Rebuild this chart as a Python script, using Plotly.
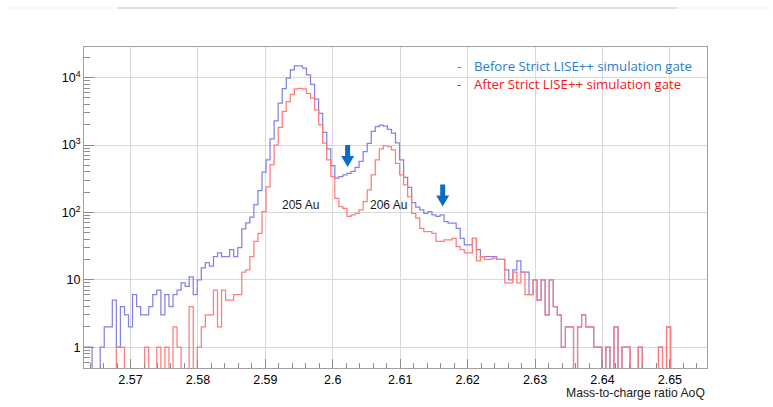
import math
import numpy as np
import plotly.graph_objects as go

# ---- data -------------------------------------------------------------
x_start = 2.5631
bin_width = 0.0006

before_gate = [
    1, 1, 0, 0, 1, 2, 2, 5, 1, 4,
    3, 2, 6, 4, 3, 3, 4, 6, 7, 3,
    6, 4, 6, 7, 9, 8, 11, 6, 10, 15,
    18, 16, 22, 25, 22, 22, 28, 22, 30, 57,
    70, 85, 130, 210, 395, 600, 1230, 2280, 4200, 6900,
    9800, 13000, 15000, 15000, 13800, 11000, 7950, 4800, 2950, 1540,
    880, 495, 322, 340, 360, 380, 405, 465, 570, 800,
    1060, 1600, 1870, 1980, 1900, 1700, 1500, 1080, 600, 330,
    235, 140, 120, 109, 97, 103, 92, 87, 92, 73,
    69, 69, 58, 41, 33, 33, 41, 28, 22, 22,
    22, 22, 20, 20, 14, 10, 14, 19, 13, 13,
    6, 10, 5, 10, 3, 10, 4, 3, 1, 2,
    2, 0, 2, 3, 2, 2, 1, 1, 0, 1,
    0, 2, 0, 1, 1, 0, 0, 1, 0, 0,
    0, 0, 1, 0, 2, 0, 0, 0, 0, 0,
    0, 0, 0, 0,
]

after_gate = [
    0, 0, 0, 0, 0, 0, 0, 0, 1, 1,
    0, 0, 0, 0, 0, 1, 0, 0, 1, 0,
    1, 0, 2, 1, 0, 0, 4, 0, 1, 2,
    3, 3, 7, 2, 7, 5, 5, 6, 6, 13,
    14, 22, 37, 49, 103, 240, 510, 1000, 1820, 3150,
    4400, 5650, 6800, 6950, 6800, 5850, 4950, 3330, 2000, 1070,
    600, 340, 162, 122, 115, 87, 92, 97, 109, 145,
    215, 360, 600, 880, 980, 950, 850, 535, 360, 257,
    172, 97, 82, 58, 52, 52, 49, 37, 37, 39,
    39, 41, 31, 28, 25, 25, 41, 19, 22, 20,
    20, 21, 20, 20, 9, 9, 13, 9, 13, 6,
    6, 10, 5, 10, 3, 10, 4, 3, 1, 2,
    2, 0, 2, 3, 2, 2, 1, 1, 0, 1,
    0, 2, 0, 1, 1, 0, 0, 1, 0, 0,
    0, 0, 1, 0, 2, 0, 0, 0, 0, 0,
    0, 0, 0, 0,
]

x_ticks = [2.57, 2.58, 2.59, 2.60, 2.61, 2.62, 2.63, 2.64, 2.65]
y_ticks = [1, 10, 100, 1000, 10000]
y_ticktext = ["1", "10", "10<sup>2</sup>", "10<sup>3</sup>", "10<sup>4</sup>"]

legend_before = "Before Strict LISE++ simulation gate"
legend_after = "After Strict LISE++ simulation gate"
x_title = "Mass-to-charge ratio AoQ"
peak_labels = [("205 Au", 2.5952, 128), ("206 Au", 2.6082, 128)]
arrow_points = [2.6022, 2.6163]

# ---- build ------------------------------------------------------------
n_bins = len(before_gate)
edges = x_start + bin_width * np.arange(n_bins + 1)
x_end = edges[-1]
floor = 0.05  # zero bins drop below the axis bottom (like ROOT)


def step_y(vals):
    v = np.array(vals, dtype=float)
    v = np.where(v > 0, v, floor)
    return np.append(v, v[-1])


fig = go.Figure()
fig.add_trace(go.Scatter(x=edges, y=step_y(before_gate), mode="lines",
                         line=dict(shape="hv", color="#8383e4", width=1.25),
                         hoverinfo="skip"))
fig.add_trace(go.Scatter(x=edges, y=step_y(after_gate), mode="lines",
                         line=dict(shape="hv", color="#ff7d7d", width=1.25),
                         hoverinfo="skip"))

font_main = "Liberation Sans, Arial, sans-serif"
font_note = "Open Sans, Liberation Sans, sans-serif"
y_lo, y_hi = 0.49, 28500
minor_y = [m * 10 ** e for e in range(-1, 5) for m in range(2, 10)]
minor_y = [v for v in minor_y if y_lo < v < y_hi]

fig.update_layout(
    width=773, height=407,
    margin=dict(l=84, r=66, t=47, b=39),
    plot_bgcolor="white", paper_bgcolor="white",
    showlegend=False,
    xaxis=dict(
        range=[x_start, x_end],
        tick0=2.57, dtick=0.01,
        ticks="inside", ticklen=9, tickcolor="#8c8c8c", tickwidth=1,
        showgrid=True, gridcolor="#d9d9d9", gridwidth=1,
        showline=True, mirror=True, linecolor="#a0a0a0", linewidth=1,
        zeroline=False,
        tickfont=dict(family=font_main, size=12.5, color="black"),
        minor=dict(tick0=2.57, dtick=0.002, ticks="inside", ticklen=5,
                   tickcolor="#8c8c8c", showgrid=False),
    ),
    yaxis=dict(
        type="log",
        range=[math.log10(y_lo), math.log10(y_hi)],
        tickmode="array", tickvals=y_ticks, ticktext=y_ticktext,
        ticks="inside", ticklen=10, tickcolor="#8c8c8c", tickwidth=1,
        showgrid=True, gridcolor="#d9d9d9", gridwidth=1,
        showline=True, mirror=True, linecolor="#a0a0a0", linewidth=1,
        zeroline=False,
        tickfont=dict(family=font_main, size=12.5, color="black"),
        minor=dict(tickmode="array", tickvals=minor_y, ticks="inside", ticklen=6,
                   tickcolor="#8c8c8c", showgrid=False),
    ),
)

annotations = []
for txt, xv, yv in peak_labels:
    annotations.append(dict(x=xv, y=math.log10(yv), xref="x", yref="y", text=txt,
                            showarrow=False, font=dict(family=font_main, size=12, color="#1a1a1a")))

blue_txt = "#2b7bd0"
red_txt = "#f01818"
for txt, col, yp in [(legend_before, blue_txt, 0.941), (legend_after, red_txt, 0.885)]:
    annotations.append(dict(x=0.595, y=yp, xref="paper", yref="paper", text="-",
                            xanchor="left", yanchor="middle", showarrow=False,
                            font=dict(family=font_note, size=13.2, color=col)))
    annotations.append(dict(x=0.6228, y=yp, xref="paper", yref="paper", text=txt,
                            xanchor="left", yanchor="middle", showarrow=False,
                            font=dict(family=font_note, size=13.2, color=col)))

annotations.append(dict(x=1.0, y=-0.078, xref="paper", yref="paper", text=x_title,
                        xanchor="right", yanchor="middle", showarrow=False,
                        font=dict(family=font_main, size=12.2, color="#1a1a1a")))
fig.update_layout(annotations=annotations)

shapes = []
arrow_path = "M -2.5,22 L 2.5,22 L 2.5,11 L 6.5,11 L 0,0 L -6.5,11 L -2.5,11 Z"
for xa, ya in zip(arrow_points, [0.626, 0.503]):
    shapes.append(dict(type="path", xref="x", yref="paper", xsizemode="pixel",
                       ysizemode="pixel", xanchor=xa, yanchor=ya, path=arrow_path,
                       fillcolor="#0a6cc4", line=dict(width=0)))
# faint line at the top of the screenshot
shapes.append(dict(type="line", xref="paper", yref="paper", x0=-0.12, x1=1.1,
                   y0=1.1215, y1=1.1215, line=dict(color="#efefef", width=1)))
shapes.append(dict(type="line", xref="paper", yref="paper", x0=0.0546, x1=0.953,
                   y0=1.1215, y1=1.1215, line=dict(color="#c8c8c8", width=1)))
fig.update_layout(shapes=shapes)

fig.write_html("out.html",
               config={"displayModeBar": False, "staticPlot": True},
               post_script="document.body.style.margin='0';document.body.style.overflow='hidden';")
